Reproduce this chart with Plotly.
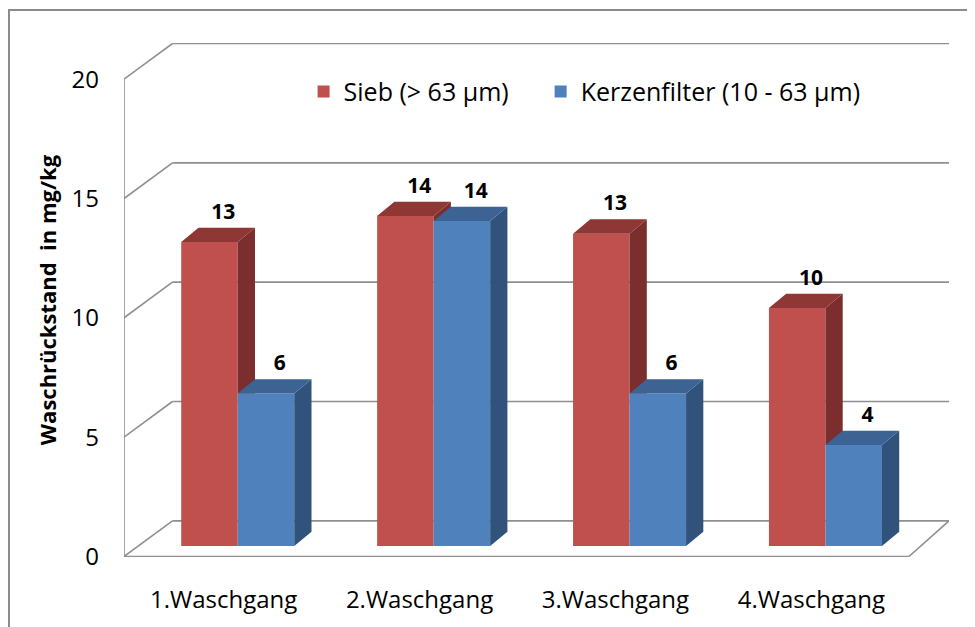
import plotly.graph_objects as go

# ---------------- data ----------------
categories = ["1.Waschgang", "2.Waschgang", "3.Waschgang", "4.Waschgang"]
sieb = [12.74, 13.83, 13.09, 9.97]          # Sieb (> 63 µm)
kerzen = [6.39, 13.62, 6.39, 4.23]          # Kerzenfilter (10 - 63 µm)
series_names = ["Sieb (> 63 µm)", "Kerzenfilter (10 - 63 µm)"]
y_ticks = [0, 5, 10, 15, 20]

# ---------------- styling / projection constants ----------------
FONT = "Open Sans"
RED, RED_SIDE, RED_TOP = "#C0504D", "#7B2E2E", "#8F3735"
BLUE, BLUE_SIDE, BLUE_TOP = "#4F81BD", "#30527B", "#3C6393"
GRID = "#8F8F8F"

W = 0.2885          # bar width (category units)
DX, DY = 0.088, 0.60  # bar depth projection (x units, y units)
FRONT_DX, FRONT_DY = -0.0721, -0.438   # front plane relative to bar plane
BACK_DX, BACK_DY = 0.1752, 1.056        # back wall relative to bar plane
X_RANGE = [-0.5806, 3.6306]
Y_RANGE = [-0.459, 21.077]
FRONT_RIGHT = 3.426 - FRONT_DX  # floor right end (bar-plane x of front corner)

xs = list(range(len(categories)))

fig = go.Figure()

# front faces
fig.add_trace(go.Bar(x=xs, y=sieb, width=W, offset=-W, marker=dict(color=RED, line=dict(width=0)),
                     name=series_names[0], hoverinfo="skip", legend="legend"))
fig.add_trace(go.Bar(x=xs, y=kerzen, width=W, offset=0, marker=dict(color=BLUE, line=dict(width=0)),
                     name=series_names[1], hoverinfo="skip", legend="legend2"))


def poly_trace(polys, color):
    px, py = [], []
    for p in polys:
        for (a, b) in p:
            px.append(a)
            py.append(b)
        px.append(p[0][0]); py.append(p[0][1])
        px.append(None); py.append(None)
    return go.Scatter(x=px, y=py, mode="lines", fill="toself", fillcolor=color,
                      line=dict(width=0, color=color), showlegend=False, hoverinfo="skip")


# red sides (lower part hidden by blue front face) and tops
red_sides, red_tops, blue_sides, blue_tops = [], [], [], []
for i, (r, b) in enumerate(zip(sieb, kerzen)):
    x0, x1, x2 = i - W, i, i + W
    lo = min(b, r)
    red_sides.append([(x1, lo), (x1 + DX, lo), (x1 + DX, r + DY), (x1, r)])
    red_tops.append([(x0, r), (x0 + DX, r + DY), (x1 + DX, r + DY), (x1, r)])
    blue_sides.append([(x2, 0), (x2 + DX, DY), (x2 + DX, b + DY), (x2, b)])
    blue_tops.append([(x1, b), (x1 + DX, b + DY), (x2 + DX, b + DY), (x2, b)])

fig.add_trace(poly_trace(red_sides, RED_SIDE))
fig.add_trace(poly_trace(red_tops, RED_TOP))
fig.add_trace(poly_trace(blue_sides, BLUE_SIDE))
fig.add_trace(poly_trace(blue_tops, BLUE_TOP))

# data labels
for vals, off in ((sieb, -W / 2), (kerzen, W / 2)):
    fig.add_trace(go.Scatter(
        x=[i + off + DX * 0.8 for i in xs], y=[v + DY + 0.15 for v in vals],
        mode="text", text=[f"{v:.0f}" for v in vals], textposition="top center",
        textfont=dict(family=FONT, size=21, color="#000000", weight="bold"),
        showlegend=False, hoverinfo="skip"))

# walls, floor and gridlines (shapes below traces)
shapes = []
line = dict(color=GRID, width=1.6)
fx0 = X_RANGE[0]
bx0 = fx0 - FRONT_DX + BACK_DX
for t in y_ticks:
    # back wall gridline
    shapes.append(dict(type="line", xref="x", yref="y", layer="below",
                       x0=bx0, x1=X_RANGE[1], y0=t + BACK_DY, y1=t + BACK_DY, line=line))
    # side wall diagonal
    shapes.append(dict(type="line", xref="x", yref="y", layer="below",
                       x0=fx0, x1=bx0, y0=t + FRONT_DY, y1=t + BACK_DY, line=line))
# front axis line
shapes.append(dict(type="line", xref="x", yref="y", layer="below",
                   x0=fx0, x1=fx0, y0=y_ticks[0] + FRONT_DY, y1=y_ticks[-1] + FRONT_DY, line=line))
# floor front edge and right edge
fr = FRONT_RIGHT + FRONT_DX
shapes.append(dict(type="line", xref="x", yref="y", layer="below",
                   x0=fx0, x1=fr, y0=FRONT_DY, y1=FRONT_DY, line=line))
shapes.append(dict(type="line", xref="x", yref="y", layer="below",
                   x0=fr, x1=X_RANGE[1], y0=FRONT_DY, y1=BACK_DY, line=line))
# outer chart border
shapes.append(dict(type="rect", xref="paper", yref="paper", layer="below",
                   x0=-0.1394, x1=1.2, y0=-0.3, y1=1.064, line=dict(color="#8C8C8C", width=2)))

legend_common = dict(orientation="h", y=0.905, xanchor="left", yanchor="middle",
                     font=dict(family=FONT, size=25, color="#000000"), itemwidth=30,
                     bgcolor="rgba(0,0,0,0)")

fig.update_layout(
    width=967, height=619,
    margin=dict(l=116, r=26, t=35, b=68),
    paper_bgcolor="white", plot_bgcolor="white",
    barmode="overlay",
    shapes=shapes,
    font=dict(family=FONT, size=24, color="#000000"),
    showlegend=True,
    legend=dict(x=0.2177, **legend_common),
    legend2=dict(x=0.505, **legend_common),
    xaxis=dict(range=X_RANGE, visible=False, fixedrange=True),
    yaxis=dict(range=Y_RANGE, visible=False, fixedrange=True),
    xaxis2=dict(range=[X_RANGE[0] - FRONT_DX, X_RANGE[1] - FRONT_DX], overlaying="x", side="bottom",
                anchor="y", tickvals=xs, ticktext=categories, showgrid=False, zeroline=False,
                showline=False, ticks="", ticklabelstandoff=26,
                tickfont=dict(family=FONT, size=24, color="#000000")),
    yaxis2=dict(range=[Y_RANGE[0] - FRONT_DY, Y_RANGE[1] - FRONT_DY], overlaying="y", side="left",
                anchor="x", tickvals=y_ticks, showgrid=False, zeroline=False, showline=False,
                ticks="", ticklabelstandoff=24,
                tickfont=dict(family=FONT, size=24, color="#000000"),
                title=dict(text="Waschrückstand \u00a0in mg/kg", standoff=8,
                           font=dict(family=FONT, size=22, color="#000000", weight="bold"))),
)

# dummy invisible trace to activate the secondary axes
fig.add_trace(go.Scatter(x=[0], y=[0], xaxis="x2", yaxis="y2", mode="markers",
                         marker=dict(opacity=0), showlegend=False, hoverinfo="skip"))

fig.write_html("out.html")
